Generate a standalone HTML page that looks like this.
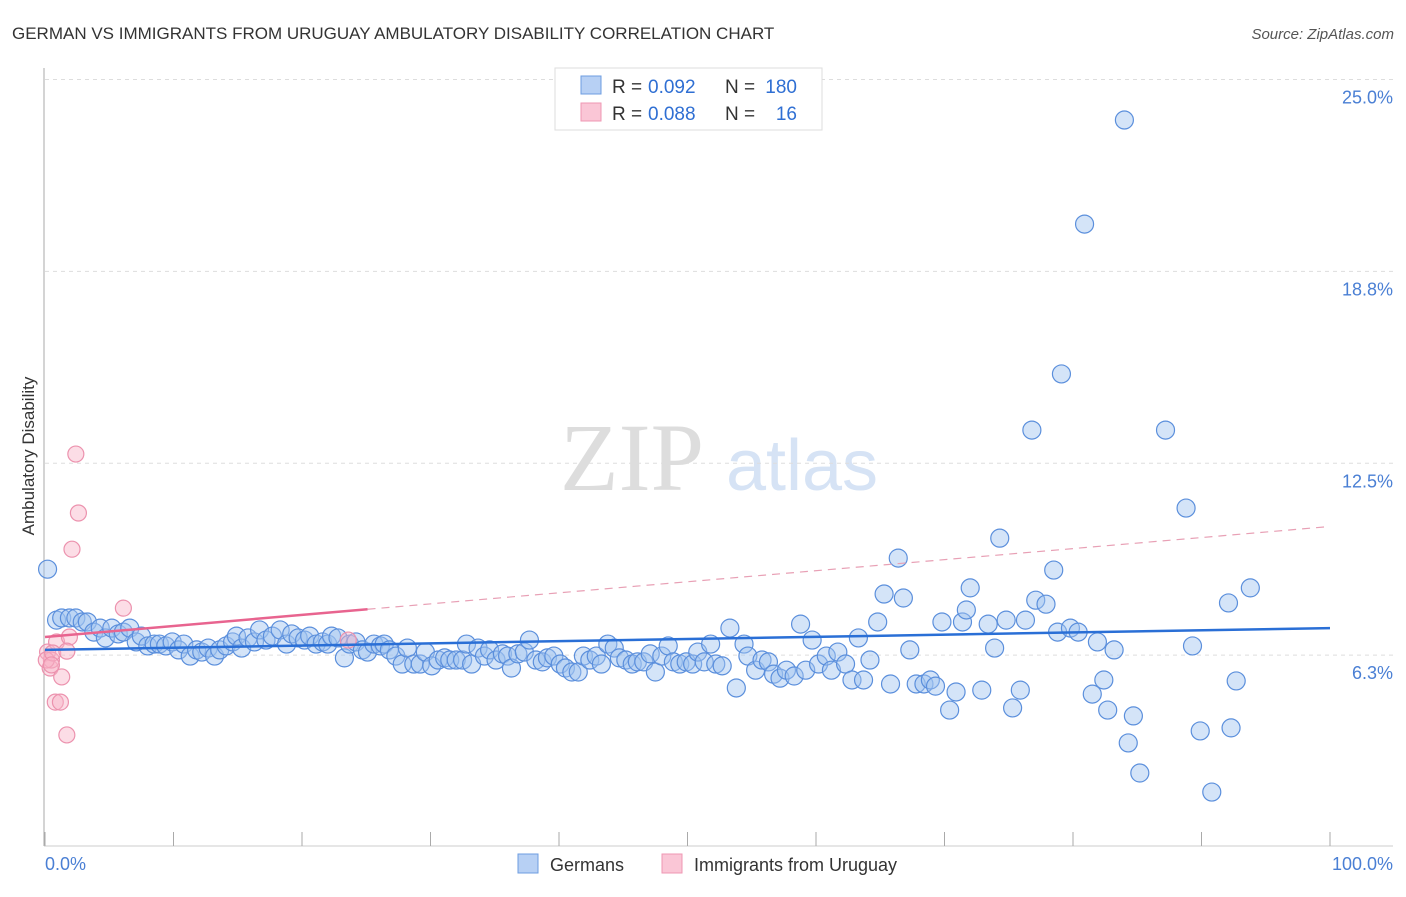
<!DOCTYPE html>
<html><head><meta charset="utf-8"><style>
body{margin:0;background:#fff;font-family:"Liberation Sans",sans-serif}
</style></head><body>
<svg width="1406" height="892" xmlns="http://www.w3.org/2000/svg" style="font-family:'Liberation Sans',sans-serif">
<text x="12" y="39" font-size="17" fill="#333">GERMAN VS IMMIGRANTS FROM URUGUAY AMBULATORY DISABILITY CORRELATION CHART</text>
<text x="1394" y="39" font-size="15" fill="#555" text-anchor="end" font-style="italic">Source: ZipAtlas.com</text>
<text x="632" y="490" font-size="96" fill="#ddd" text-anchor="middle" font-family="Liberation Serif">ZIP</text>
<text x="802" y="490" font-size="72" fill="#d6e3f5" text-anchor="middle">atlas</text>
<g id="grid"></g><g id="axes"></g><g id="pts"></g><g id="trend"></g>
<text transform="translate(34,456) rotate(-90)" font-size="17" fill="#333" text-anchor="middle">Ambulatory Disability</text>
<text x="45" y="870" font-size="18" fill="#4a7fd4">0.0%</text>
<text x="1393" y="870" font-size="18" fill="#4a7fd4" text-anchor="end">100.0%</text>
<g>
<rect x="555" y="68" width="267" height="62" fill="#fff" stroke="#ddd"/>
<rect x="581" y="76" width="20" height="18" fill="#b7d0f4" stroke="#6d9de0"/>
<rect x="581" y="103" width="20" height="18" fill="#fac6d6" stroke="#ef97b3"/>
<text x="612" y="93" font-size="19" fill="#333">R =</text>
<text x="648" y="93" font-size="19" fill="#2f6fd3">0.092</text>
<text x="725" y="93" font-size="19" fill="#333">N =</text>
<text x="797" y="93" font-size="19" fill="#2f6fd3" text-anchor="end">180</text>
<text x="612" y="120" font-size="19" fill="#333">R =</text>
<text x="648" y="120" font-size="19" fill="#2f6fd3">0.088</text>
<text x="725" y="120" font-size="19" fill="#333">N =</text>
<text x="797" y="120" font-size="19" fill="#2f6fd3" text-anchor="end">16</text>
</g>
<g>
<rect x="518" y="854" width="20" height="19" fill="#b7d0f4" stroke="#6d9de0"/>
<text x="550" y="871" font-size="18" fill="#333">Germans</text>
<rect x="662" y="854" width="20" height="19" fill="#fac6d6" stroke="#ef97b3"/>
<text x="694" y="871" font-size="18" fill="#333">Immigrants from Uruguay</text>
</g>
</svg>
<script>
const yTicks=[6.25,12.5,18.75,25];
const yTickLabels=["6.3%","12.5%","18.8%","25.0%"];
const gx=[0.2,0.9,1.3,1.9,2.4,2.9,3.3,3.8,4.3,4.7,5.2,5.7,6.1,6.6,7.1,7.5,8.0,8.5,8.9,9.4,9.9,10.4,10.8,11.3,11.8,12.2,12.7,13.2,13.6,14.1,14.6,14.9,15.3,15.8,16.3,16.7,17.2,17.7,18.3,18.8,19.2,19.7,20.2,20.6,21.1,21.6,22.0,22.3,22.8,23.3,23.7,24.2,24.7,25.1,25.6,26.1,26.4,26.8,27.3,27.8,28.2,28.7,29.2,29.6,30.1,30.6,31.1,31.5,32.0,32.5,32.8,33.2,33.7,34.2,34.6,35.1,35.6,36.0,36.3,36.8,37.3,37.7,38.2,38.7,39.1,39.6,40.1,40.5,41.0,41.5,41.9,42.4,42.9,43.3,43.8,44.3,44.7,45.2,45.7,46.1,46.6,47.1,47.5,48.0,48.5,48.9,49.4,49.9,50.4,50.8,51.3,51.8,52.2,52.7,53.3,53.8,54.4,54.7,55.3,55.8,56.3,56.7,57.2,57.7,58.3,58.8,59.2,59.7,60.2,60.8,61.2,61.7,62.3,62.8,63.3,63.7,64.2,64.8,65.3,65.8,66.4,66.8,67.3,67.8,68.4,68.9,69.3,69.8,70.4,70.9,71.4,71.7,72.0,72.9,73.4,73.9,74.3,74.8,75.3,75.9,76.3,76.8,77.1,77.9,78.5,78.8,79.1,79.8,80.4,80.9,81.5,81.9,82.4,82.7,83.2,84.0,84.3,84.7,85.2,87.2,88.8,89.3,89.9,90.8,92.1,92.3,92.7,93.8];
const gy=[9.05,7.39,7.46,7.46,7.46,7.33,7.33,7.0,7.13,6.81,7.13,6.94,7.0,7.13,6.68,6.87,6.55,6.61,6.61,6.55,6.68,6.42,6.61,6.22,6.42,6.35,6.48,6.22,6.42,6.55,6.68,6.87,6.48,6.81,6.68,7.07,6.74,6.87,7.07,6.61,6.94,6.81,6.74,6.87,6.61,6.68,6.61,6.87,6.81,6.16,6.61,6.68,6.42,6.35,6.61,6.55,6.61,6.42,6.22,5.96,6.48,5.96,5.96,6.35,5.90,6.09,6.16,6.09,6.09,6.09,6.61,5.96,6.48,6.22,6.42,6.09,6.29,6.22,5.83,6.29,6.35,6.74,6.09,6.03,6.16,6.22,5.96,5.83,5.70,5.70,6.22,6.09,6.22,5.96,6.61,6.48,6.16,6.09,5.96,6.03,6.03,6.29,5.70,6.22,6.55,6.03,5.96,6.03,5.96,6.35,6.03,6.61,5.96,5.90,7.13,5.18,6.61,6.22,5.76,6.09,6.03,5.63,5.50,5.76,5.57,7.26,5.76,6.74,5.96,6.22,5.76,6.35,5.96,5.44,6.81,5.44,6.09,7.33,8.24,5.31,9.41,8.11,6.42,5.31,5.31,5.44,5.24,7.33,4.46,5.05,7.33,7.72,8.44,5.11,7.26,6.48,10.06,7.39,4.53,5.11,7.39,13.58,8.04,7.91,9.02,7.0,15.41,7.13,7.0,20.29,4.98,6.68,5.44,4.46,6.42,23.68,3.39,4.27,2.41,13.58,11.04,6.55,3.78,1.79,7.95,3.88,5.41,8.44];
const ux=[0.2,0.4,0.5,0.1,0.9,0.6,0.5,1.3,0.8,1.2,1.7,2.4,2.6,2.1,6.1,1.9,1.7,23.6];
const uy=[6.35,5.83,6.09,6.09,6.68,6.32,5.93,5.54,4.72,4.72,3.65,12.8,10.88,9.7,7.78,6.84,6.38,6.74];
const blueTrend=[6.42,0.0071];
const pinkTrend=[6.84,0.036];
const pinkSolidEnd=25.1;
const X=p=>45+p*12.85, Y=v=>847-v*30.7;
const NS="http://www.w3.org/2000/svg";
function mk(t,a,parent){const e=document.createElementNS(NS,t);for(const k in a)e.setAttribute(k,a[k]);document.getElementById(parent).appendChild(e);return e;}
yTicks.forEach((v,i)=>{
 const l=mk('line',{x1:45,x2:1393,y1:Y(v),y2:Y(v),stroke:'#ddd','stroke-dasharray':'4,4'},'grid');
 
 
 const t=mk('text',{x:1393,y:Y(v)+24,'font-size':18,fill:'#4a7fd4','text-anchor':'end'},'grid');
 t.textContent=yTickLabels[i];
 
 
});
const ax=mk('line',{x1:44,x2:44,y1:68,y2:846,stroke:'#aaa'},'axes');


const bx=mk('line',{x1:44,x2:1393,y1:846,y2:846,stroke:'#ccc'},'axes');


for(let i=0;i<=10;i++){const t=mk('line',{x1:X(i*10),x2:X(i*10),y1:832,y2:846,stroke:'#aaa'},'axes');
 
 }
gx.forEach((p,i)=>{const c=mk('circle',{cx:X(p),cy:Y(gy[i]),r:9,fill:'rgba(160,195,240,0.45)',stroke:'#5b8fdc','stroke-width':1.2},'pts');
 
 });
ux.forEach((p,i)=>{const c=mk('circle',{cx:X(p),cy:Y(uy[i]),r:8,fill:'rgba(248,180,200,0.45)',stroke:'#ec92ae','stroke-width':1.2},'pts');
 
 });
const bl=mk('line',{x1:X(0),y1:Y(blueTrend[0]),x2:X(100),y2:Y(blueTrend[0]+blueTrend[1]*100),stroke:'#2a6fd6','stroke-width':2.5},'trend');


const ps=mk('line',{x1:X(0),y1:Y(pinkTrend[0]),x2:X(pinkSolidEnd),y2:Y(pinkTrend[0]+pinkTrend[1]*pinkSolidEnd),stroke:'#e8648f','stroke-width':2.5},'trend');


const pd=mk('line',{x1:X(pinkSolidEnd),y1:Y(pinkTrend[0]+pinkTrend[1]*pinkSolidEnd),x2:X(100),y2:Y(pinkTrend[0]+pinkTrend[1]*100),stroke:'#e8a0b5','stroke-width':1.2,'stroke-dasharray':'8,6'},'trend');


</script>
</body></html>
